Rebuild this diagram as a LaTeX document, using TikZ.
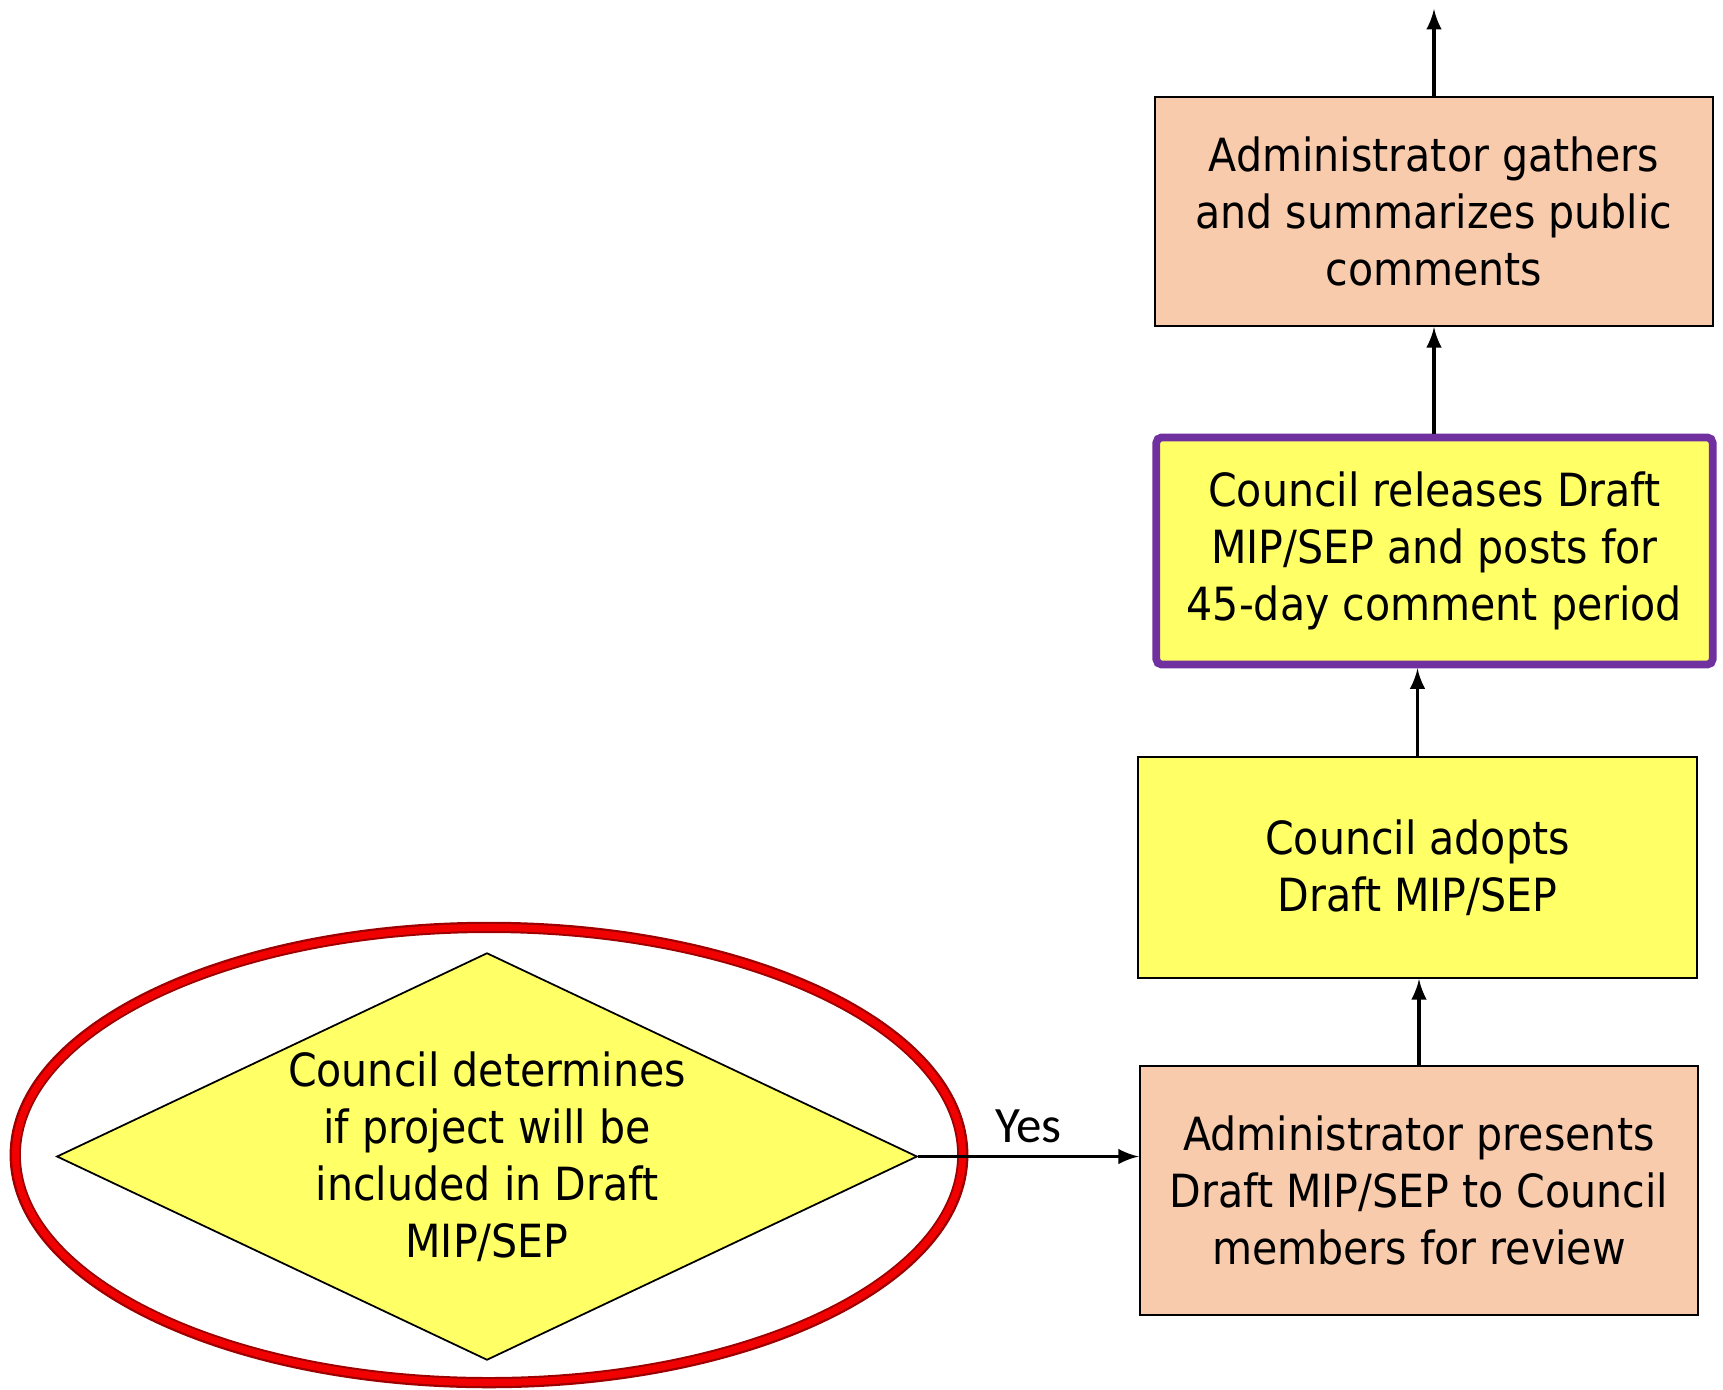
\documentclass[tikz,border=0pt]{standalone}
\usepackage{fontspec}
\setmainfont{DejaVu Sans Condensed}
\newfontfamily\yesfont{Carlito}
\usetikzlibrary{shapes.geometric}

\definecolor{peach}{HTML}{F8CBAD}
\definecolor{lemon}{HTML}{FFFF66}
\definecolor{violet}{HTML}{7030A0}
\definecolor{ringred}{HTML}{F00000}

\tikzset{
  stepnode/.style={draw, line width=0.6pt, align=center, inner sep=0pt,
    font=\fontsize{13}{16.2}\selectfont},
  peachbox/.style={stepnode, fill=peach},
  lemonbox/.style={stepnode, fill=lemon}
}

\begin{document}
\begin{tikzpicture}[x=0.01cm,y=-0.01cm,>=latex,line width=1pt]
    \useasboundingbox (0,0) rectangle (1723,1390);
    % right column, bottom to top
    \node[peachbox, minimum width=5.58cm, minimum height=2.49cm] (present) at (1419,1190.5)
        {Administrator presents\\Draft MIP/SEP to Council\\members for review};
    \node[lemonbox, minimum width=5.59cm, minimum height=2.21cm] (adopt) at (1417.5,867.5)
        {Council adopts\\Draft MIP/SEP};
    \node[lemonbox, draw=violet, line width=2.2pt, rounded corners=1.5pt,
          minimum width=5.56cm, minimum height=2.27cm] (release) at (1434.5,551)
        {Council releases Draft\\MIP/SEP and posts for\\45-day comment period};
    \node[peachbox, minimum width=5.58cm, minimum height=2.29cm] (gather) at (1434,211.5)
        {Administrator gathers\\and summarizes public\\comments};
    \coordinate (next) at (1434,9);
    % decision and the ring round it
    \node[diamond, draw, line width=0.5pt, fill=lemon, inner sep=0pt, aspect=2.1,
          minimum width=8.6cm, minimum height=4.07cm, align=center,
          font=\fontsize{13}{16.2}\selectfont] (decide) at (487,1156.5)
        {Council determines\\if project will be\\included in Draft\\MIP/SEP};
    \node[ellipse, draw=ringred!65!black, line width=3.2pt, minimum width=9.47cm,
          minimum height=4.55cm] (ring) at (489,1155) {};
    \draw[ringred, line width=2pt] (ring.center) ellipse [x radius=473.5, y radius=227.5];
    \path[->]
    (decide.east) edge node[above, font=\yesfont\fontsize{14.5}{16}\selectfont] {Yes} (decide.east -| present.west)
    (present.north) edge (present.north |- adopt.south)
    (adopt.north) edge (adopt.north |- release.south)
    (gather.north |- release.north) edge (gather.south)
    (gather.north) edge (next)
    ; %end path
\end{tikzpicture}
\end{document}
